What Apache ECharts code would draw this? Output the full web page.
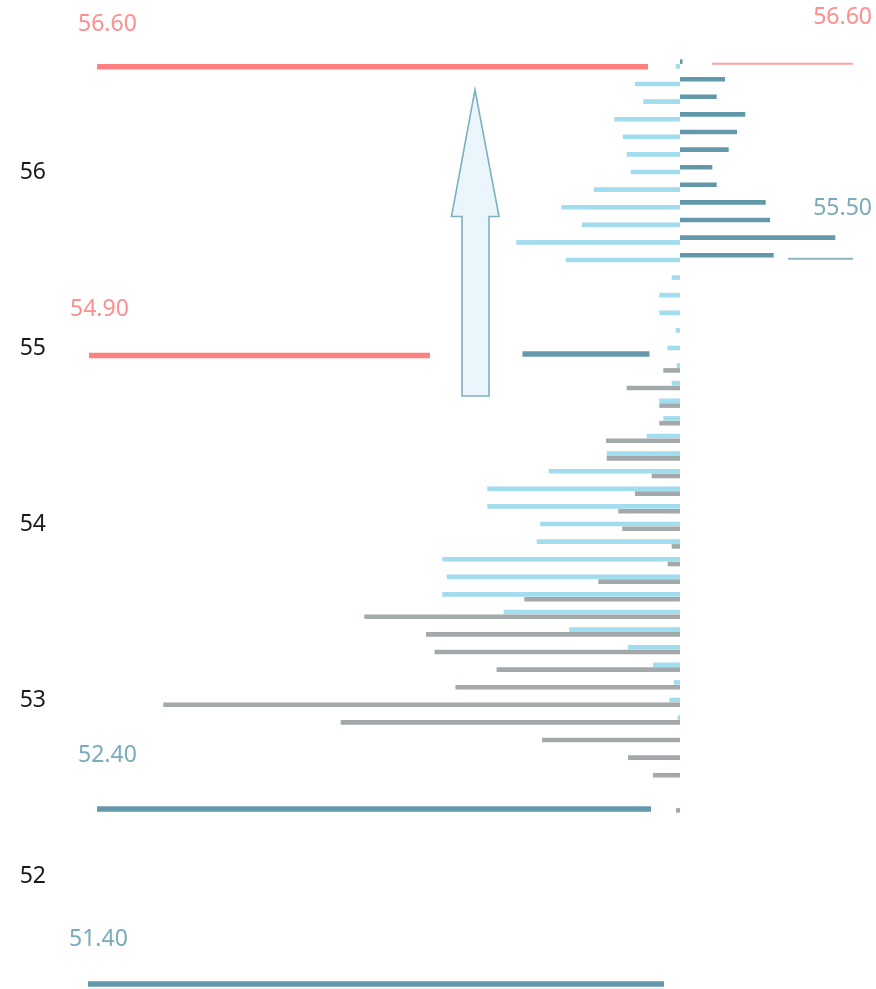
<!DOCTYPE html>
<html>
<head>
<meta charset="utf-8">
<script src="https://cdn.jsdelivr.net/npm/echarts@6/dist/echarts.min.js"></script>
<style>
html,body{margin:0;padding:0;background:#fff;}
#chart{width:876px;height:989px;}
</style>
</head>
<body>
<div id="chart"></div>
<script>
// Price levels (y) of the distribution rows
const prices = [56.6, 56.5, 56.4, 56.3, 56.2, 56.1, 56.0, 55.9, 55.8, 55.7, 55.6, 55.5,
  55.4, 55.3, 55.2, 55.1, 55.0, 54.9, 54.8, 54.7, 54.6, 54.5, 54.4, 54.3, 54.2, 54.1,
  54.0, 53.9, 53.8, 53.7, 53.6, 53.5, 53.4, 53.3, 53.2, 53.1, 53.0, 52.9, 52.8, 52.7,
  52.6, 52.5, 52.4];
// right-hand (dark teal) volumes
const darkVals = [2.5, 45, 36.7, 65.3, 57, 48.7, 32.3, 36.7, 85.7, 90, 155.3, 93.7,
  0, 0, 0, 0, 0, 0, 0, 0, 0, 0, 0, 0, 0, 0,
  0, 0, 0, 0, 0, 0, 0, 0, 0, 0, 0, 0, 0, 0,
  0, 0, 0];
// left-hand light blue volumes
const lightVals = [4.3, 45, 36.7, 65.7, 57.3, 53.3, 49.3, 86, 118.7, 98, 163.7, 114.3,
  8.3, 20.7, 20.7, 4.3, 12.7, 3.3, 8.3, 20.7, 16.7, 33.3, 73.3, 131.3, 192.7, 192.7,
  139.7, 143.3, 237.7, 233.3, 237.7, 176.3, 110.7, 52, 27, 6, 10.6, 2.4, 0, 0,
  0, 0, 0];
// left-hand gray volumes
const grayVals = [0, 0, 0, 0, 0, 0, 0, 0, 0, 0, 0, 0,
  0, 0, 0, 0, 0, 16.7, 53.3, 20.7, 20.7, 74, 73.3, 28.3, 45, 61.7,
  57.7, 8.3, 12.3, 81.7, 155.7, 315.7, 254, 245.4, 183.4, 224.6, 516.7, 339.3, 138, 52,
  27, 0, 4];

// Level lines
const levelPrices = [56.598, 56.615, 55.507, 54.958, 54.966, 52.381, 51.386];
const levelFrom   = [-583, 32, 108, -591, -157.5, -583, -592];
const levelTo     = [-32, 173, 173, -250, -30.5, -29, -16];
const levelTexts  = ['56.60', '56.60', '55.50', '54.90', '', '52.40', '51.40'];
const levelKinds  = ['high', 'highFar', 'lowFar', 'high', 'low', 'low', 'low'];

const yTicks = [52, 53, 54, 55, 56];

const kindStyle = {
  high:    {stroke: '#ff8080', width: 5.5, text: '#ff8e8e', side: 'left'},
  highFar: {stroke: '#ffa2a2', width: 2,   text: '#ff8e8e', side: 'right'},
  low:     {stroke: '#6399ab', width: 5.5, text: '#7aaabc', side: 'left'},
  lowFar:  {stroke: '#8db4c1', width: 2,   text: '#7aaabc', side: 'right'}
};
// vertical lift of each level label above its line (px, styling)
const labelLift = [42.5, 46, 50, 46, 0, 53, 45];

const BAR_H = 4.6;
const SLOT = 4.8;

function barSeries(name, vals, sign, color, slot) {
  return {
    name: name,
    type: 'custom',
    encode: {x: 0, y: 1},
    data: prices.map((p, i) => [sign * vals[i], p]),
    renderItem: function (params, api) {
      const v = api.value(0), p = api.value(1);
      if (!v) return null;
      const a = api.coord([0, p]);
      const b = api.coord([v, p]);
      return {
        type: 'rect',
        shape: {x: Math.min(a[0], b[0]), y: a[1] + slot * SLOT - BAR_H / 2,
                width: Math.abs(b[0] - a[0]), height: BAR_H},
        style: {fill: color}
      };
    }
  };
}

const chart = echarts.init(document.getElementById('chart'));
const option = {
  animation: false,
  backgroundColor: '#ffffff',
  grid: {left: 60, right: 16, top: 48.8, height: 939.84},
  xAxis: {type: 'value', min: -620, max: 180, show: false},
  yAxis: {
    type: 'value', min: 51.36, max: 56.7,
    axisLine: {show: false}, axisTick: {show: false}, splitLine: {show: false},
    axisLabel: {
      fontSize: 23, color: '#1a1a1a', margin: 14, fontFamily: 'Noto Sans',
      formatter: function (v) {
        return yTicks.some(t => Math.abs(t - v) < 1e-6) ? String(Math.round(v)) : '';
      }
    }
  },
  series: [
    barSeries('dark', darkVals, 1, '#6198aa', -1),
    barSeries('light', lightVals, -1, '#a2dcef', 0),
    barSeries('gray', grayVals, -1, '#a3a9aa', 1),
    {
      name: 'levels',
      type: 'custom',
      encode: {x: [0, 1], y: 2},
      data: levelPrices.map((p, i) => [levelFrom[i], levelTo[i], p]),
      renderItem: function (params, api) {
        const i = params.dataIndex;
        const st = kindStyle[levelKinds[i]];
        const a = api.coord([api.value(0), api.value(2)]);
        const b = api.coord([api.value(1), api.value(2)]);
        const children = [{
          type: 'line',
          shape: {x1: a[0], y1: a[1], x2: b[0], y2: b[1]},
          style: {stroke: st.stroke, lineWidth: st.width}
        }];
        if (levelTexts[i]) {
          const left = st.side === 'left';
          children.push({
            type: 'text',
            style: {
              text: levelTexts[i],
              x: left ? a[0] - 19 : b[0] + 19,
              y: a[1] - labelLift[i],
              align: left ? 'left' : 'right',
              verticalAlign: 'middle',
              fill: st.text,
              fontSize: 23,
              fontFamily: 'Noto Sans'
            }
          });
        }
        return {type: 'group', children: children};
      }
    }
  ]
};
chart.setOption(option);

// Up arrow annotation, positioned through the chart scales
const arrowX = -205, tipP = 56.467, barbP = 55.747, baseP = 54.727;
const tip = chart.convertToPixel({gridIndex: 0}, [arrowX, tipP]);
const barb = chart.convertToPixel({gridIndex: 0}, [arrowX, barbP]);
const base = chart.convertToPixel({gridIndex: 0}, [arrowX, baseP]);
const cx = tip[0];
chart.setOption({
  graphic: [{
    type: 'polygon',
    z: 10,
    shape: {points: [
      [cx, tip[1]], [cx + 24, barb[1]], [cx + 14, barb[1]], [cx + 14, base[1]],
      [cx - 13, base[1]], [cx - 13, barb[1]], [cx - 23.5, barb[1]]
    ]},
    style: {fill: '#ebf6fc', stroke: '#7db0c0', lineWidth: 1.6}
  }]
});
</script>
</body>
</html>
